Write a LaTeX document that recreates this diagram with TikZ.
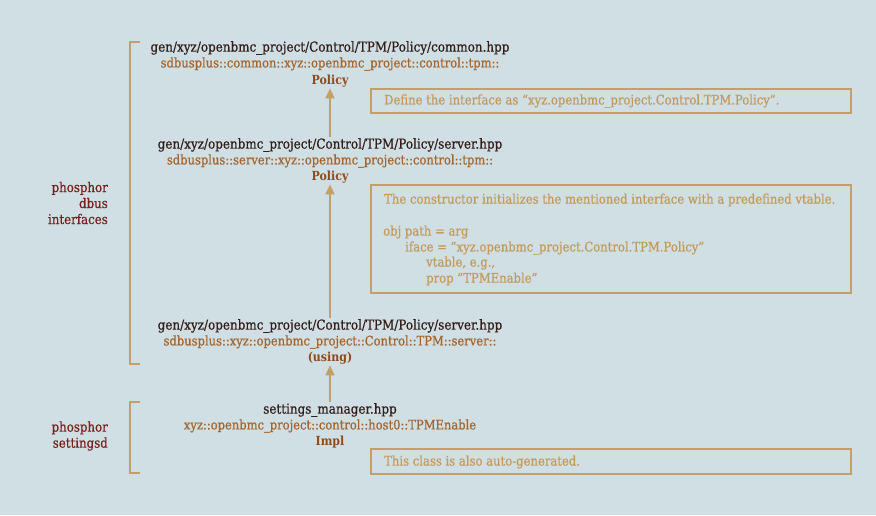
\documentclass[tikz,border=0pt]{standalone}
\usepackage{fontspec}
\setmainfont{DejaVu Serif}[FakeStretch=0.88, UprightFeatures={FakeBold=0.6}]
\usetikzlibrary{arrows.meta}
\definecolor{bg}{RGB}{208,223,227}
\definecolor{tan}{RGB}{196,160,104}
\definecolor{darktxt}{RGB}{52,30,26}
\definecolor{subtxt}{RGB}{165,101,46}
\definecolor{boldtxt}{RGB}{142,75,30}
\definecolor{sidetxt}{RGB}{122,32,32}
\definecolor{notetxt}{RGB}{196,154,90}
\tikzset{
  title/.style={font=\fontsize{13.6}{16}\selectfont, text=darktxt, inner sep=1pt},
  sub/.style={font=\fontsize{13.1}{16}\selectfont, text=subtxt, inner sep=1pt},
  cls/.style={font=\fontsize{12.5}{15}\selectfont\bfseries, text=boldtxt, inner sep=1pt},
  side/.style={font=\fontsize{13.4}{16}\selectfont, text=sidetxt, align=right, anchor=east, inner sep=0pt},
  notebox/.style={draw=tan, line width=1.3pt},
  notetext/.style={font=\fontsize{13.2}{16}\selectfont, text=notetxt, anchor=west, inner sep=0pt},
  arr/.style={draw=tan, line width=1.3pt, -{Triangle[width=9pt,length=10pt]}},
  brk/.style={draw=tan, line width=1.3pt},
}
\begin{document}
\begin{tikzpicture}[x=1pt,y=-1pt]
\useasboundingbox[fill=bg] (0,0) rectangle (876,515);
% side labels
\node[side] (s1) at (108,203) {phosphor\\dbus\\interfaces};
\node[side] (s2) at (108,436) {phosphor\\settingsd};
% brackets
\draw[brk] (140,42) -- (130,42) -- (130,364) -- (140,364);
\draw[brk] (140,402) -- (130,402) -- (130,473) -- (140,473);
% block 1
\node[title] (a1) at (330,48) {gen/xyz/openbmc\_project/Control/TPM/Policy/common.hpp};
\node[sub] (a2) at (330,64) {sdbusplus::common::xyz::openbmc\_project::control::tpm::};
\node[cls] (a3) at (330,81) {Policy};
% block 2
\node[title] (b1) at (330,145) {gen/xyz/openbmc\_project/Control/TPM/Policy/server.hpp};
\node[sub] (b2) at (330,161) {sdbusplus::server::xyz::openbmc\_project::control::tpm::};
\node[cls] (b3) at (330,177) {Policy};
% block 3
\node[title] (c1) at (330,326) {gen/xyz/openbmc\_project/Control/TPM/Policy/server.hpp};
\node[sub] (c2) at (330,342) {sdbusplus::xyz::openbmc\_project::Control::TPM::server::};
\node[cls] (c3) at (330,358) {(using)};
% block 4
\node[title] (d1) at (330,410) {settings\_manager.hpp};
\node[sub] (d2) at (330,426) {xyz::openbmc\_project::control::host0::TPMEnable};
\node[cls] (d3) at (330,442) {Impl};
% arrows
\draw[arr] (b1.north) -- (a3.south);
\draw[arr] (c1.north) -- (b3.south);
\draw[arr] (d1.north) -- (c3.south);
% notes
\draw[notebox] (371,89) rectangle (851,113);
\node[notetext] (n1) at (384,101) {Define the interface as “xyz.openbmc\_project.Control.TPM.Policy”.};
\draw[notebox] (371,185) rectangle (851,293);
\node[notetext] (n2) at (384,200) {The constructor initializes the mentioned interface with a predefined vtable.};
\node[notetext] (n3) at (383,232) {obj path = arg};
\node[notetext] (n4) at (405,248) {iface = "xyz.openbmc\_project.Control.TPM.Policy"};
\node[notetext] (n5) at (426,263) {vtable, e.g.,};
\node[notetext] (n6) at (426,279) {prop "TPMEnable"};
\draw[notebox] (371,449) rectangle (851,474);
\node[notetext] (n7) at (384,462) {This class is also auto-generated.};
\end{tikzpicture}
\end{document}
